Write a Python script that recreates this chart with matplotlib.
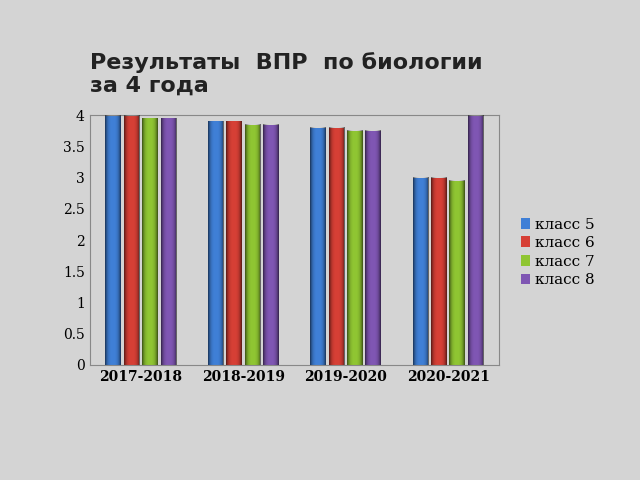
import matplotlib
matplotlib.use("Agg")
import matplotlib.pyplot as plt
import numpy as np
from matplotlib.colors import LinearSegmentedColormap

years = ["2017-2018", "2018-2019", "2019-2020", "2020-2021"]
series = ["класс 5", "класс 6", "класс 7", "класс 8"]
values = {
    "класс 5": [4.0, 3.9, 3.8, 3.0],
    "класс 6": [4.0, 3.9, 3.8, 3.0],
    "класс 7": [3.95, 3.85, 3.75, 2.95],
    "класс 8": [3.95, 3.85, 3.75, 4.0],
}
colors = ["#3f7fd6", "#d63f35", "#8fc532", "#7f56b3"]

fig = plt.figure(figsize=(6.4, 4.8), dpi=100)
fig.patch.set_facecolor("#d4d4d4")
ax = fig.add_axes([0.14, 0.24, 0.64, 0.52])
ax.set_facecolor("none")
x = np.arange(len(years))
w = 0.18
cm = LinearSegmentedColormap.from_list("sh", [(0, 0, 0, 0), (0, 0, 0, 1)])
t = np.linspace(-1, 1, 60)
shade = (np.abs(t) ** 3).reshape(1, -1) * 0.6
for i, s in enumerate(series):
    pos = x + (i - 1.5) * w
    ax.bar(pos, values[s], width=w * 0.85, color=colors[i], label=s,
           edgecolor="none", zorder=2)
    for p, v in zip(pos, values[s]):
        ax.imshow(shade, extent=[p - w * 0.425, p + w * 0.425, 0, v], aspect="auto",
                  cmap=cm, vmin=0, vmax=1, zorder=3)
ax.set_xlim(-0.5, 3.5)
ax.set_ylim(0, 4)
ax.set_yticks(np.arange(0, 4.01, 0.5))
ax.set_yticklabels(["0", "0.5", "1", "1.5", "2", "2.5", "3", "3.5", "4"])
ax.set_xticks(x)
ax.set_xticklabels(years, fontweight="bold", fontfamily="DejaVu Serif")
for tl in ax.get_yticklabels():
    tl.set_fontfamily("DejaVu Serif")
ax.tick_params(labelsize=10, length=0)
for sp in ax.spines.values():
    sp.set_color("#888888")
ax.grid(False)
fig.text(0.14, 0.80, "Результаты  ВПР  по биологии\nза 4 года", fontsize=16,
         fontweight="bold", fontfamily="DejaVu Sans", va="bottom", color="#222222")
ax.legend(loc="center left", bbox_to_anchor=(1.02, 0.45), frameon=False,
          prop={"family": "DejaVu Serif", "size": 11}, handlelength=0.6,
          handletextpad=0.3, labelspacing=0.3)
fig.savefig("out.png", dpi=100, facecolor=fig.get_facecolor())
